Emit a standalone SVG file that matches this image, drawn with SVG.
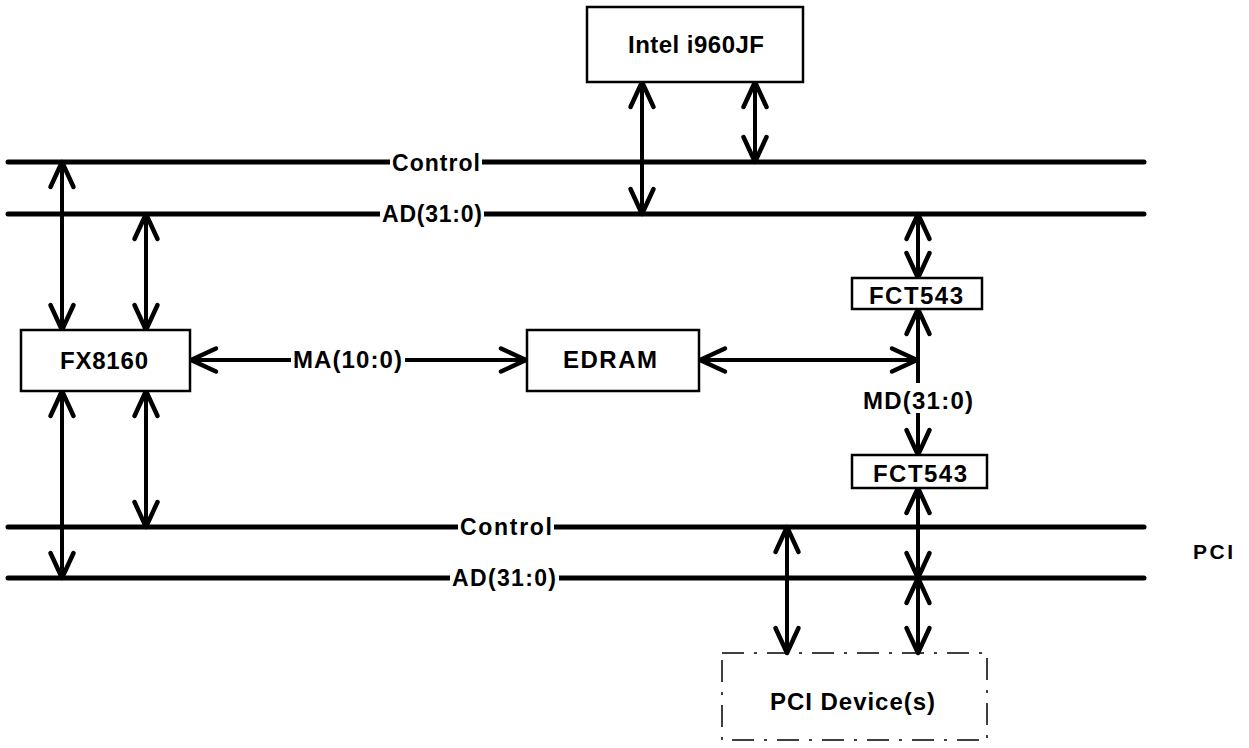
<svg xmlns="http://www.w3.org/2000/svg" width="1249" height="748" viewBox="0 0 1249 748">
<style>
.bus{stroke:#000;stroke-width:5;stroke-linecap:round;fill:none}
.con{stroke:#000;stroke-width:4;fill:none;marker-start:url(#ah);marker-end:url(#ah)}
.box{fill:#fff;stroke:#000;stroke-width:2.5}
.t{font-family:"Liberation Sans",Arial,sans-serif;font-weight:bold;font-size:24px;fill:#000}
.b{font-size:23px}
.bg{fill:#fff}
</style>
<defs>
<marker id="ah" markerUnits="userSpaceOnUse" markerWidth="60" markerHeight="60" viewBox="-30 -30 60 60" refX="0" refY="0" orient="auto-start-reverse" overflow="visible">
<path d="M-25,-11.5 L0,0 L-25,11.5" fill="none" stroke="#000" stroke-width="4.5" stroke-linecap="round" stroke-linejoin="round"/>
</marker>
<marker id="ah1" markerUnits="userSpaceOnUse" markerWidth="60" markerHeight="60" viewBox="-30 -30 60 60" refX="0" refY="0" orient="auto" overflow="visible">
<path d="M-25,-11.5 L0,0 L-25,11.5" fill="none" stroke="#000" stroke-width="4.5" stroke-linecap="round" stroke-linejoin="round"/>
</marker>
</defs>
<rect width="1249" height="748" fill="#fff"/>

<g id="buses">
<line class="bus" x1="8" y1="162" x2="1144" y2="162"/>
<line class="bus" x1="8" y1="214" x2="1144" y2="214"/>
<line class="bus" x1="8" y1="527" x2="1144" y2="527"/>
<line class="bus" x1="8" y1="578" x2="1144" y2="578"/>
<rect class="bg" x="390" y="151" width="92" height="22"/>
<text class="t b" x="392" y="171" textLength="88" lengthAdjust="spacing">Control</text>
<rect class="bg" x="380" y="203" width="104" height="24"/>
<text class="t b" x="382" y="222" textLength="100" lengthAdjust="spacing">AD(31:0)</text>
<rect class="bg" x="458" y="516" width="96" height="22"/>
<text class="t b" x="460" y="535" textLength="92" lengthAdjust="spacing">Control</text>
<rect class="bg" x="450" y="567" width="109" height="24"/>
<text class="t b" x="452" y="586" textLength="104" lengthAdjust="spacing">AD(31:0)</text>
<text class="t" x="1193" y="559" textLength="40" lengthAdjust="spacing" style="font-size:21px">PCI</text>
</g>

<g id="connectors">
<line class="con" x1="62" y1="162" x2="62" y2="330"/>
<line class="con" x1="146" y1="214" x2="146" y2="330"/>
<line class="con" x1="642" y1="82" x2="642" y2="214"/>
<line class="con" x1="755" y1="82" x2="755" y2="162"/>
<line class="con" x1="62" y1="391" x2="62" y2="578"/>
<line class="con" x1="146" y1="391" x2="146" y2="527"/>
<line class="con" x1="191" y1="360" x2="526" y2="360"/>
<rect class="bg" x="291" y="346" width="114" height="26"/>
<text class="t" x="293" y="368" textLength="109" lengthAdjust="spacing">MA(10:0)</text>
<line class="con" x1="700" y1="360" x2="917" y2="360"/>
<line class="con" x1="918" y1="214" x2="918" y2="278"/>
<line x1="918" y1="309" x2="918" y2="383" stroke="#000" stroke-width="4" marker-start="url(#ah)"/>
<line x1="918" y1="413" x2="918" y2="455" stroke="#000" stroke-width="4" marker-end="url(#ah1)"/>
<text class="t" x="863" y="409" textLength="110" lengthAdjust="spacing">MD(31:0)</text>
<line class="con" x1="918" y1="488" x2="918" y2="578"/>
<line class="con" x1="918" y1="578" x2="918" y2="653"/>
<line class="con" x1="787" y1="527" x2="787" y2="653"/>
</g>

<g id="intel">
<rect class="box" x="587" y="7" width="216" height="75"/>
<text class="t" x="628" y="53" textLength="136" lengthAdjust="spacing">Intel i960JF</text>
</g>
<g id="fx8160">
<rect class="box" x="21" y="330" width="169" height="61"/>
<text class="t" x="60" y="369" textLength="88" lengthAdjust="spacing">FX8160</text>
</g>
<g id="edram">
<rect class="box" x="527" y="330" width="172" height="61"/>
<text class="t" x="563" y="368" textLength="94" lengthAdjust="spacing">EDRAM</text>
</g>
<g id="fct543-top">
<rect class="box" x="852" y="278" width="130" height="31"/>
<text class="t" x="869" y="304" textLength="94" lengthAdjust="spacing">FCT543</text>
</g>
<g id="fct543-bottom">
<rect class="box" x="852" y="455" width="135" height="33"/>
<text class="t" x="873" y="482" textLength="94" lengthAdjust="spacing">FCT543</text>
</g>
<g id="pci-device">
<rect x="722" y="653" width="265" height="87" fill="none" stroke="#000" stroke-width="1.5" stroke-dasharray="22 10 3 10"/>
<text class="t" x="770" y="710" textLength="165" lengthAdjust="spacing">PCI Device(s)</text>
</g>
</svg>
